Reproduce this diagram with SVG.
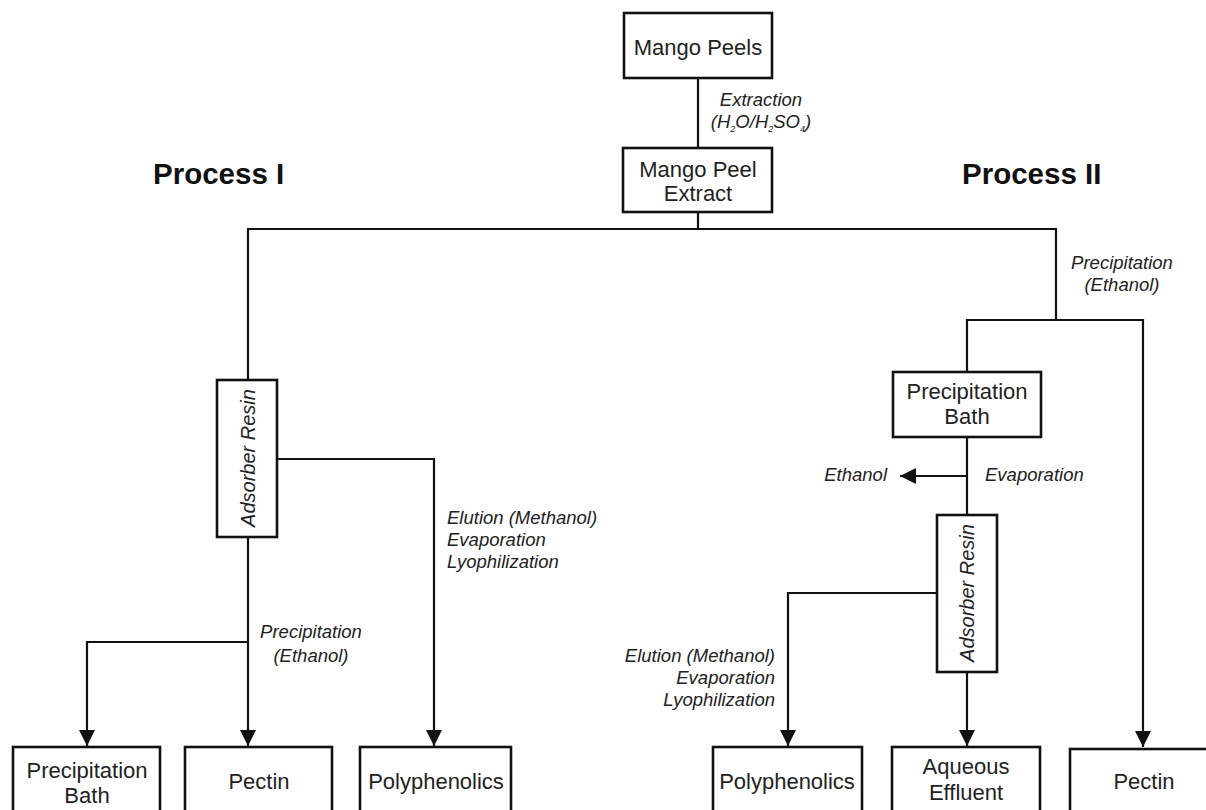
<svg xmlns="http://www.w3.org/2000/svg" width="1206" height="810" viewBox="0 0 1206 810">
<style>
.box{fill:#fff;stroke:#111;stroke-width:2.6}
.ln{fill:none;stroke:#111;stroke-width:2.2}
.t{font-family:"Liberation Sans",Arial,sans-serif;font-size:22px;fill:#222;text-anchor:middle}
.i{font-family:"Liberation Sans",Arial,sans-serif;font-size:18.5px;font-style:italic;fill:#222}
.r{font-size:20px}
.h{font-family:"Liberation Sans",Arial,sans-serif;font-size:29.5px;font-weight:bold;fill:#111}
</style>
<defs>
<marker id="ah" viewBox="0 0 16 18" refX="16" refY="9" markerWidth="16" markerHeight="18" markerUnits="userSpaceOnUse" orient="auto">
<path d="M0,1 L16,9 L0,17 Z" fill="#111"/>
</marker>
</defs>
<rect width="1206" height="810" fill="#fff"/>
<g id="connectors">
<line class="ln" x1="698" y1="78" x2="698" y2="148"/>
<line class="ln" x1="698" y1="212" x2="698" y2="229"/>
<polyline class="ln" points="248,380 248,229 1056,229 1056,320"/>
<polyline class="ln" points="967,372 967,320 1143,320 1143,747" marker-end="url(#ah)"/>
<polyline class="ln" points="277,459 434,459 434,746" marker-end="url(#ah)"/>
<line class="ln" x1="248" y1="537" x2="248" y2="746" marker-end="url(#ah)"/>
<polyline class="ln" points="248,642 87,642 87,746" marker-end="url(#ah)"/>
<line class="ln" x1="967" y1="437" x2="967" y2="515"/>
<line class="ln" x1="967" y1="476" x2="900" y2="476" marker-end="url(#ah)"/>
<polyline class="ln" points="937,593 788,593 788,746" marker-end="url(#ah)"/>
<line class="ln" x1="967" y1="672" x2="967" y2="746" marker-end="url(#ah)"/>
</g>
<g id="labels">
<text class="h" x="153" y="184">Process I</text>
<text class="h" x="962" y="184">Process II</text>
<text class="i" x="761" y="106" text-anchor="middle">Extraction</text>
<text class="i" x="761" y="128" text-anchor="middle">(H<tspan font-size="9" dy="4">2</tspan><tspan dy="-4">O/H</tspan><tspan font-size="9" dy="4">2</tspan><tspan dy="-4">SO</tspan><tspan font-size="9" dy="4">4</tspan><tspan dy="-4">)</tspan></text>
<text class="i" x="1122" y="269" text-anchor="middle">Precipitation</text>
<text class="i" x="1122" y="291" text-anchor="middle">(Ethanol)</text>
<text class="i" x="311" y="638" text-anchor="middle">Precipitation</text>
<text class="i" x="311" y="662" text-anchor="middle">(Ethanol)</text>
<text class="i" x="447" y="524">Elution (Methanol)</text>
<text class="i" x="447" y="546">Evaporation</text>
<text class="i" x="447" y="568">Lyophilization</text>
<text class="i" x="775" y="662" text-anchor="end">Elution (Methanol)</text>
<text class="i" x="775" y="684" text-anchor="end">Evaporation</text>
<text class="i" x="775" y="706" text-anchor="end">Lyophilization</text>
<text class="i" x="887" y="481" text-anchor="end">Ethanol</text>
<text class="i" x="985" y="481">Evaporation</text>
</g>
<g id="mango-peels">
<rect class="box" x="624" y="13" width="148" height="65"/>
<text class="t" x="698" y="55">Mango Peels</text>
</g>
<g id="mango-peel-extract">
<rect class="box" x="623" y="148" width="149" height="64"/>
<text class="t" x="698" y="177">Mango Peel</text>
<text class="t" x="698" y="201">Extract</text>
</g>
<g id="adsorber-resin-1">
<rect class="box" x="217" y="380" width="60" height="157"/>
<text class="i r" transform="translate(248,458) rotate(-90)" text-anchor="middle" dominant-baseline="central">Adsorber Resin</text>
</g>
<g id="precipitation-bath-2">
<rect class="box" x="893" y="372" width="148" height="65"/>
<text class="t" x="967" y="399">Precipitation</text>
<text class="t" x="967" y="424">Bath</text>
</g>
<g id="adsorber-resin-2">
<rect class="box" x="937" y="515" width="60" height="157"/>
<text class="i r" transform="translate(967,593) rotate(-90)" text-anchor="middle" dominant-baseline="central">Adsorber Resin</text>
</g>
<g id="precipitation-bath-1">
<rect class="box" x="13" y="747" width="147" height="80"/>
<text class="t" x="87" y="778">Precipitation</text>
<text class="t" x="87" y="803">Bath</text>
</g>
<g id="pectin-1">
<rect class="box" x="185" y="747" width="147" height="80"/>
<text class="t" x="259" y="789">Pectin</text>
</g>
<g id="polyphenolics-1">
<rect class="box" x="360" y="747" width="151" height="80"/>
<text class="t" x="436" y="789">Polyphenolics</text>
</g>
<g id="polyphenolics-2">
<rect class="box" x="713" y="747" width="149" height="80"/>
<text class="t" x="787" y="789">Polyphenolics</text>
</g>
<g id="aqueous-effluent">
<rect class="box" x="892" y="747" width="148" height="80"/>
<text class="t" x="966" y="774">Aqueous</text>
<text class="t" x="966" y="800">Effluent</text>
</g>
<g id="pectin-2">
<rect class="box" x="1070" y="749" width="160" height="80"/>
<text class="t" x="1144" y="789">Pectin</text>
</g>
</svg>
